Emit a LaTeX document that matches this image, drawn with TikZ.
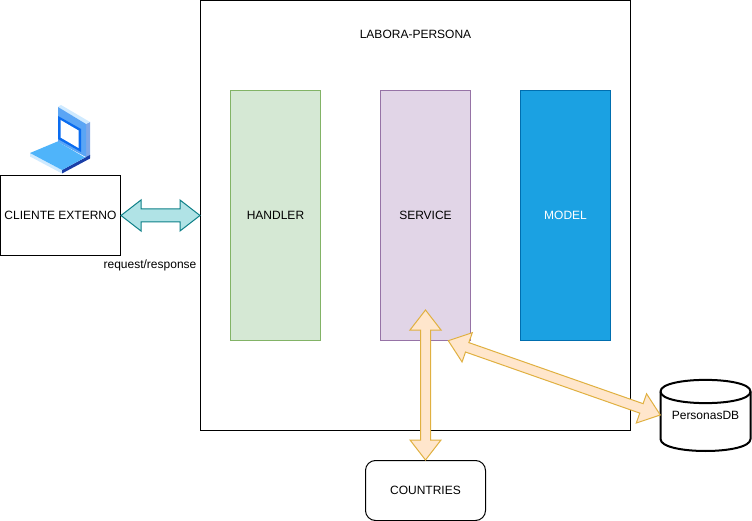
\documentclass[tikz,border=0pt]{standalone}
\usepackage{fontspec}
\setmainfont{Liberation Sans}
\usetikzlibrary{calc}
\definecolor{hfill}{HTML}{D5E8D4}\definecolor{hline}{HTML}{82B366}
\definecolor{sfill}{HTML}{E1D5E7}\definecolor{sline}{HTML}{9673A6}
\definecolor{mfill}{HTML}{1BA1E2}\definecolor{mline}{HTML}{006EAF}
\definecolor{afill}{HTML}{FFE6CC}\definecolor{aline}{HTML}{E0B040}
\definecolor{tfill}{HTML}{B0E3E6}\definecolor{tline}{HTML}{0E8088}
\definecolor{lapA}{HTML}{5AA5F5}\definecolor{lapB}{HTML}{1A3FA8}\definecolor{lapC}{HTML}{CFEAFF}\definecolor{lapD}{HTML}{4FB4FA}\definecolor{lapE}{HTML}{0A6CF0}\definecolor{lapF}{HTML}{7FA8E8}
\tikzset{
 txt/.style={font=\fontsize{12}{14}\selectfont,text=black,inner sep=0pt},
 layer/.style={draw,line width=0.8pt,minimum width=90pt,minimum height=250pt,font=\fontsize{12}{14}\selectfont,inner sep=0pt},
 plainbox/.style={draw=black,line width=1pt,fill=white,font=\fontsize{12}{14}\selectfont,inner sep=0pt},
 orangearrow/.style={draw=aline,fill=afill,line width=1pt,line join=miter},
 tealarrow/.style={draw=tline,fill=tfill,line width=1pt,line join=miter},
}
% #1 style, #2 and #3 end points, #4 head length, #5 half head width, #6 half shaft width
\newcommand{\dblarrow}[6]{%
 \path ($(#2)!#4!(#3)$) coordinate (aa) ($(#3)!#4!(#2)$) coordinate (bb);
 \draw[#1] (#2) -- ($(aa)!#5!90:(bb)$) -- ($(aa)!#6!90:(bb)$) -- ($(bb)!#6!-90:(aa)$) -- ($(bb)!#5!-90:(aa)$) -- (#3)
  -- ($(bb)!#5!90:(aa)$) -- ($(bb)!#6!90:(aa)$) -- ($(aa)!#6!-90:(bb)$) -- ($(aa)!#5!-90:(bb)$) -- cycle;
}
\begin{document}
\begin{tikzpicture}[x=1pt,y=-1pt]
\useasboundingbox (0,0) rectangle (752,521);
\node[plainbox,minimum width=430pt,minimum height=430pt] (labora) at (415.5,215.5) {};
\node[txt] (title) at (415.5,34) {LABORA-PERSONA};
\node[layer,draw=hline,fill=hfill] (handler) at (275.5,215.5) {HANDLER};
\node[layer,draw=sline,fill=sfill] (service) at (425.5,215.5) {SERVICE};
\node[layer,draw=mline,fill=mfill,text=white] (model) at (565.5,215.5) {MODEL};
\node[plainbox,minimum width=120pt,minimum height=80pt] (client) at (60.5,215.5) {CLIENTE EXTERNO};
\node[txt] (req) at (150,265) {request/response};
\node[plainbox,rounded corners=10pt,minimum width=120pt,minimum height=60pt] (countries) at (425.5,490.5) {COUNTRIES};
% database
\draw[line width=2pt,fill=white]
 (660.5,391.5) .. controls (660.5,376) and (750.5,376) .. (750.5,391.5)
 -- (750.5,439) .. controls (750.5,455) and (660.5,455) .. (660.5,439) -- cycle;
\draw[line width=2pt] (660.5,391.5) .. controls (660.5,407) and (750.5,407) .. (750.5,391.5);
\node[txt,minimum width=90pt,minimum height=71pt] (db) at (705.5,415) {PersonasDB};
% arrows
\coordinate (svcA) at (425.5,310);
\coordinate (svcB) at (448.3,340.7);
\dblarrow{tealarrow}{client.east}{labora.west}{20pt}{15.5pt}{6.5pt}
\dblarrow{orangearrow}{svcA}{countries.north}{20pt}{15.5pt}{5pt}
\dblarrow{orangearrow}{svcB}{db.west}{20pt}{15.5pt}{5pt}
% laptop
\fill[lapF] (86,124) -- (90,122) -- (90,156) -- (86,158) -- cycle;
\fill[lapC] (58,107) -- (61,105) -- (90,122) -- (86,124) -- cycle;
\fill[lapA] (58,107) -- (86,124) -- (86,157) -- (58,142) -- cycle;
\fill[lapE] (58,116) -- (81,129) -- (81,152) -- (58,139) -- cycle;
\fill[white] (60.5,120) -- (78.5,130.5) -- (78.5,148) -- (60.5,137.5) -- cycle;
\fill[lapC] (30,153) -- (62,170) -- (62,173.5) -- (30,156.5) -- cycle;
\fill[lapB] (62,170) -- (90,155) -- (90,158.5) -- (62,173.5) -- cycle;
\fill[lapD] (30,153) -- (57.5,141.5) -- (85,157.5) -- (62,170) -- cycle;
\end{tikzpicture}
\end{document}
